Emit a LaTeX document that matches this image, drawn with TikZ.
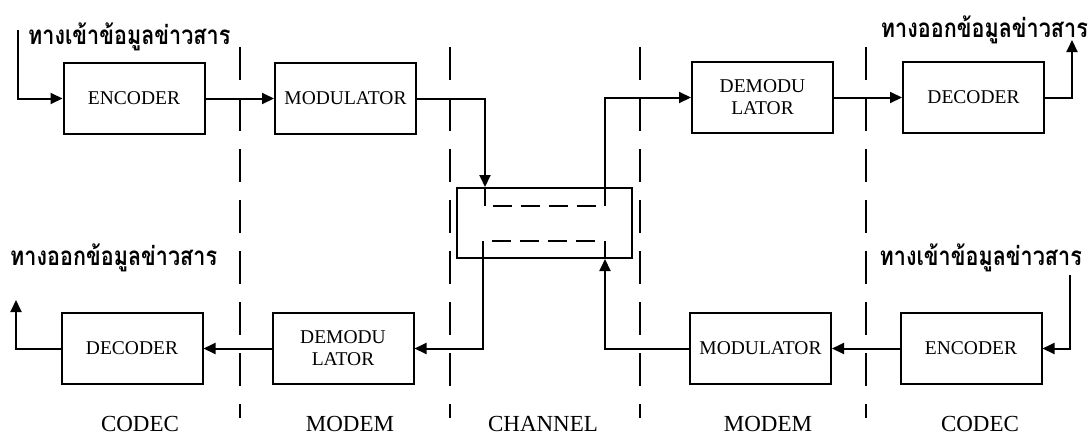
\documentclass[tikz,border=0pt]{standalone}
\usepackage{fontspec}
\setmainfont{Liberation Serif}
\newfontfamily\thaifont[Script=Thai]{Loma}
\usetikzlibrary{arrows.meta,calc}
\newcommand{\thtxt}[1]{\scalebox{0.83}[1]{#1}}
\begin{document}
\begin{tikzpicture}[x=1pt,y=-1pt,
  blk/.style={draw, line width=2pt, minimum width=141pt, minimum height=71pt, inner sep=0pt,
    font=\fontsize{19.5}{22}\selectfont, align=center},
  conn/.style={line width=2pt},
  arr/.style={conn, -{Triangle[length=12pt,width=11pt]}},
  sep/.style={line width=1.8pt, dash pattern=on 33pt off 18pt},
  innerdash/.style={line width=2.2pt, dash pattern=on 19pt off 9pt},
  lbl/.style={font=\fontsize{23}{25}\selectfont, inner sep=0pt},
  th/.style={font=\thaifont\bfseries\fontsize{26}{28}\selectfont, inner sep=0pt}
]
\useasboundingbox (0,0) rectangle (1091,437);
% separators
\foreach \x in {240,450,640,866} \draw[sep] (\x,47) -- (\x,418);
% boxes
\node[blk] (enc1) at (134,98.5) {ENCODER};
\node[blk] (mod1) at (345.5,98.5) {MODULATOR};
\node[blk] (dem1) at (762.5,97.5) {DEMODU\\LATOR};
\node[blk] (dec1) at (973.5,97.5) {DECODER};
\node[blk] (dec2) at (132,348.5) {DECODER};
\node[blk] (dem2) at (343,348.5) {DEMODU\\LATOR};
\node[blk] (mod2) at (760.5,348.5) {MODULATOR};
\node[blk] (enc2) at (971,348.5) {ENCODER};
\node[draw, line width=2pt, minimum width=175pt, minimum height=70pt, inner sep=0pt] (ch) at (544.5,223) {};
% channel inner points
\coordinate (p1) at (485,206);
\coordinate (p2) at (605,206);
\coordinate (p3) at (605,241);
\coordinate (p4) at (483,241);
\coordinate (in1) at (18,30);
\coordinate (out1) at (1072,40);
\coordinate (in2) at (1070,275);
\coordinate (out2) at (16,300);
% top path
\draw[arr] (in1) |- (enc1.west);
\draw[arr] (enc1) -- (mod1);
\draw[arr] (mod1.east) -| (p1 |- ch.north);
\draw[conn] (p1 |- ch.north) -- (p1);
\draw[innerdash] ($(p1)+(8,0)$) -- ($(p2)+(-8,0)$);
\draw[arr] (p2) |- (dem1.west);
\draw[arr] (dem1) -- (dec1);
\draw[arr] (dec1.east) -| (out1);
% bottom path
\draw[arr] (in2) |- (enc2.east);
\draw[arr] (enc2) -- (mod2);
\draw[arr] (mod2.west) -| (p3 |- ch.south);
\draw[conn] (p3 |- ch.south) -- (p3);
\draw[innerdash] ($(p4)+(9,0)$) -- ($(p3)+(-9,0)$);
\draw[arr] (p4) |- (dem2.east);
\draw[arr] (dem2) -- (dec2);
\draw[arr] (dec2.west) -| (out2);
% Thai labels
\node[th, anchor=base west] (t1) at (28,44) {\thtxt{ทางเข้าข้อมูลข่าวสาร}};
\node[th, anchor=base east] (t2) at (1088,37) {\thtxt{ทางออกข้อมูลข่าวสาร}};
\node[th, anchor=base west] (t3) at (10,265) {\thtxt{ทางออกข้อมูลข่าวสาร}};
\node[th, anchor=base east] (t4) at (1082,265) {\thtxt{ทางเข้าข้อมูลข่าวสาร}};
% section labels
\node[lbl] (l1) at (140,424) {CODEC};
\node[lbl] (l2) at (350,424) {MODEM};
\node[lbl] (l3) at (543,424) {CHANNEL};
\node[lbl] (l4) at (768,424) {MODEM};
\node[lbl] (l5) at (980,424) {CODEC};
\end{tikzpicture}
\end{document}
